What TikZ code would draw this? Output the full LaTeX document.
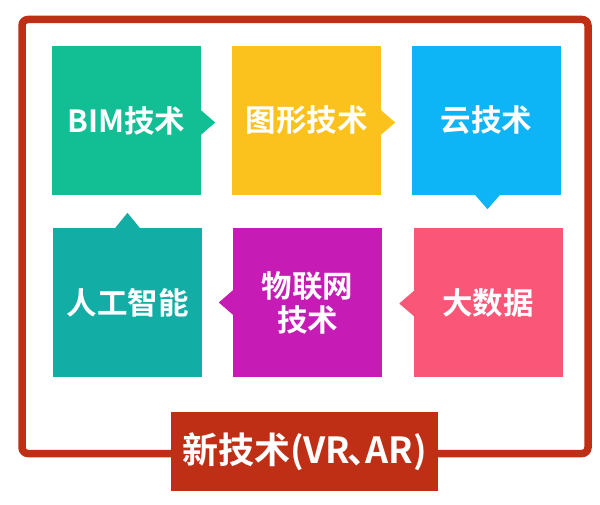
\documentclass[tikz,border=0pt]{standalone}
\usetikzlibrary{calc}
\usepackage{fontspec}
\newfontfamily\cjk{Noto Sans CJK SC}[BoldFont={Noto Sans CJK SC Bold}]
\definecolor{cBim}{HTML}{12BF94}
\definecolor{cTu}{HTML}{FBC21D}
\definecolor{cYun}{HTML}{0DB4F6}
\definecolor{cDa}{HTML}{FA5677}
\definecolor{cWu}{HTML}{C71BB5}
\definecolor{cRen}{HTML}{12ADA5}
\definecolor{cRed}{HTML}{BF2F16}
\begin{document}
\begin{tikzpicture}[x=1pt,y=-1pt,
  tile/.style={minimum width=149pt,minimum height=149pt,inner sep=0pt,
    text=white,align=center,font=\cjk\bfseries\fontsize{30.5}{34}\selectfont},
  frame/.style={draw=cRed,line width=7.5pt,rounded corners=6pt}]
\useasboundingbox (0,0) rectangle (600,505);
\fill[white] (0,0) rectangle (600,505);
\draw[frame] (22,19.5) rectangle (588,453.5);
% tiles
\node[tile,fill=cBim]  (bim) at (126.5,120.5) {BIM技术};
\node[tile,fill=cTu]   (tu)  at (306.5,120.5) {图形技术};
\node[tile,fill=cYun]  (yun) at (486.5,120.5) {云技术};
\node[tile,fill=cRen]  (ren) at (127.5,302.5) {人工智能};
\node[tile,fill=cWu]   (wu)  at (307.5,302.5) {物联网\\技术};
\node[tile,fill=cDa]   (da)  at (488,302.5) {大数据};
% pointers
\fill[cBim] ($(bim.east)+(-1,-11)$) -- ($(bim.east)+(14,2)$) -- ($(bim.east)+(-1,15)$) -- cycle;
\fill[cTu]  ($(tu.east)+(-1,-11)$) -- ($(tu.east)+(14,2)$) -- ($(tu.east)+(-1,15)$) -- cycle;
\fill[cYun] ($(yun.south)+(-12,-1)$) -- ($(yun.south)+(1,14)$) -- ($(yun.south)+(14,-1)$) -- cycle;
\fill[cDa]  ($(da.west)+(1,-12)$) -- ($(da.west)+(-14,1)$) -- ($(da.west)+(1,14)$) -- cycle;
\fill[cWu]  ($(wu.west)+(1,-13)$) -- ($(wu.west)+(-14,0)$) -- ($(wu.west)+(1,13)$) -- cycle;
\fill[cRen] ($(ren.north)+(-13,1)$) -- ($(ren.north)+(0,-15)$) -- ($(ren.north)+(13,1)$) -- cycle;
% label
\node[fill=cRed,minimum width=267pt,minimum height=79pt,inner sep=0pt,text=white,
  font=\cjk\bfseries\fontsize{36}{40}\selectfont] (lab) at (304.5,451.5) {新技术(VR\kern-0.08em、\kern-0.5em AR)};
\end{tikzpicture}
\end{document}
